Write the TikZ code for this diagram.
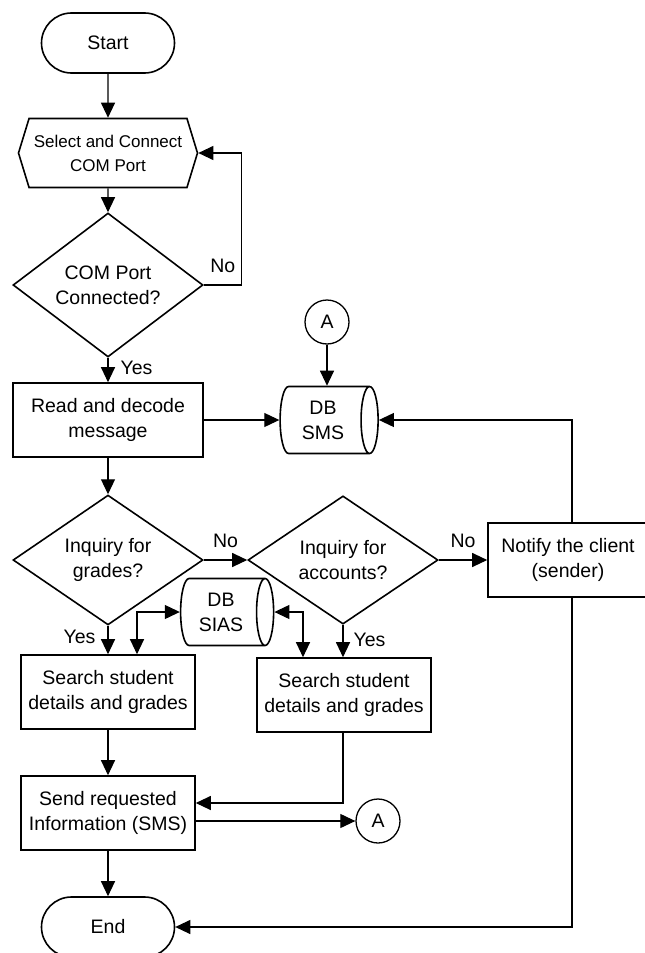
\documentclass[tikz,border=0pt]{standalone}
\usepackage{fontspec}
\setmainfont{Liberation Sans}
\usetikzlibrary{arrows.meta,shapes,positioning}
\tikzset{
  basic/.style     = {draw, line width=1.6pt, align=center, inner sep=2pt,
                      font=\fontsize{19.5pt}{25pt}\selectfont},
  terminal/.style  = {basic, rectangle, rounded corners=30pt,
                      minimum width=133pt, minimum height=60pt},
  prep/.style      = {basic, signal, signal to=west and east,
                      signal pointer angle=146, minimum width=179pt,
                      minimum height=69pt, font=\fontsize{17pt}{24pt}\selectfont},
  decision/.style  = {basic, diamond, inner sep=0pt,
                      minimum width=190pt, minimum height=105pt},
  process/.style   = {basic, rectangle, minimum height=74pt},
  % cylinder sizes are taken along its axis, so width and height swap
  database/.style  = {basic, cylinder, aspect=0.4, minimum width=67pt},
  connector/.style = {basic, circle, line width=1.3pt, minimum size=44pt,
                      inner sep=0pt},
  answer/.style    = {inner sep=6pt, font=\fontsize{19.5pt}{25pt}\selectfont}
}
\begin{document}
\begin{tikzpicture}[
  node distance=50pt,
  line width=1.1pt,
  >={Triangle[length=15pt,width=14pt]}]

\useasboundingbox (0,0) rectangle (645pt,-953pt);

% main column
\node[terminal] (start) at (108pt,-43pt) {Start};
\node[prep, below of=start, yshift=-60pt] (conn) {Select and Connect\\COM Port};
\node[decision, below of=conn, yshift=-82pt] (conned) {COM Port\\Connected?};
\node[process, below of=conned, yshift=-85pt, minimum width=190pt] (read) {Read and decode\\message};

% message store and its connector
\node[database, right of=read, xshift=165pt, minimum height=98pt] (sms) {DB\\SMS};
\node[connector, above of=sms, yshift=48pt, xshift=4pt] (a1) {A};

% the two inquiries
\node[decision, below of=read, yshift=-90pt] (grades) {Inquiry for\\grades?};
\node[decision, right of=grades, xshift=185pt] (accounts) {Inquiry for\\accounts?};
\node[process, right of=accounts, xshift=175pt, minimum width=160pt] (notify) {Notify the client\\(sender)};

% student database and searches
\node[database, below of=grades, xshift=113pt, yshift=-2pt, minimum height=93pt] (sias) {DB\\SIAS};
\node[process, below of=grades, yshift=-82pt, minimum width=174pt] (search1) {Search student\\details and grades};
\node[process, below of=accounts, xshift=1pt, yshift=-85pt, minimum width=174pt] (search2) {Search student\\details and grades};

% reply and end
\node[process, below of=search1, yshift=-71pt, minimum width=174pt] (send) {Send requested\\Information (SMS)};
\node[connector, right of=send, xshift=220pt, yshift=-8pt] (a2) {A};
\node[terminal, below of=send, yshift=-64pt] (end) {End};

% connections
\draw[->] (start) -- (conn);
\draw[->] (conn) -- (conned);
\draw[->] (conned.east) -- node[answer, above=6pt]{No} ++(38pt,0) |- (conn.east);
\draw[->] (conned) -- node[answer, right=6pt, pos=0.4]{Yes} (read);
\draw[->] (read) -- (sms);
\draw[->] (a1) -- (a1 |- sms.north);
\draw[->] ([xshift=4pt]notify.north) |- (sms.east);

\draw[->] (read) -- (grades);
\draw[->] (grades) -- node[answer, above=6pt]{No} (accounts);
\draw[->] (accounts) -- node[answer, above=6pt]{No} (notify);
\draw[->] (grades) -- node[answer, left=6pt, pos=0.4]{Yes} (search1);
\draw[->] (accounts.south) -- node[answer, right=4pt, pos=0.45]{Yes} (accounts.south |- search2.north);
\draw[<->] (sias.west) -| ([xshift=29pt]search1.north);
\draw[<->] (sias.east) -| ([xshift=-41pt]search2.north);

\draw[->] (search1) -- (send);
\draw[->] ([xshift=-1pt]search2.south) |- ([yshift=10pt]send.east);
\draw[->] ([yshift=-8pt]send.east) -- (a2);
\draw[->] (send) -- (end);
\draw[->] ([xshift=4pt]notify.south) |- (end);

\end{tikzpicture}
\end{document}
